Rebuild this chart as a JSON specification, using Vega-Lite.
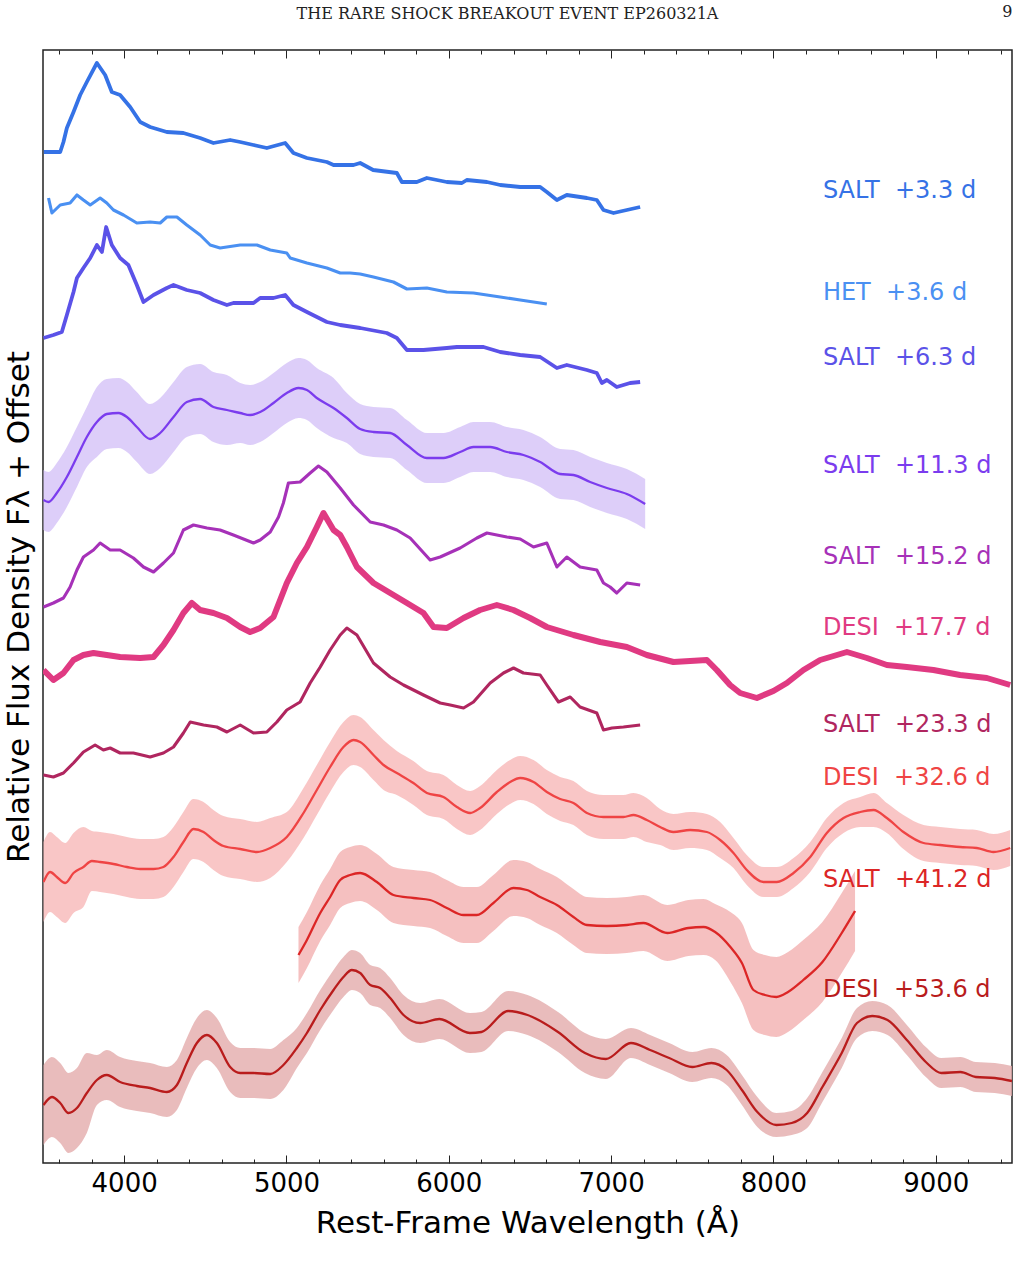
{
"$schema": "https://vega.github.io/schema/vega-lite/v6.json",
"width": 969, "height": 1113,
"autosize": {"type": "none"},
"padding": {"left": 43, "top": 50, "right": 14, "bottom": 105},
"background": "white",
"title": {"text": "THE RARE SHOCK BREAKOUT EVENT EP260321A", "anchor": "middle", "font": "DejaVu Serif", "fontSize": 16, "fontWeight": "normal", "color": "#222", "dx": -20, "dy": 18, "offset": 0},
"config": {"view": {"stroke": "#222", "strokeWidth": 1.5}},
"datasets": {
"sp": [
{"s":"a","w":3505,"v":101.1},{"s":"a","w":3606,"v":101.1},{"s":"a","w":3626,"v":102.1},{"s":"a","w":3647,"v":103.5},{"s":"a","w":3688,"v":105.1},{"s":"a","w":3729,"v":106.8},{"s":"a","w":3770,"v":108.1},{"s":"a","w":3832,"v":110.0},{"s":"a","w":3883,"v":108.8},{"s":"a","w":3924,"v":107.1},{"s":"a","w":3975,"v":106.8},{"s":"a","w":4037,"v":105.6},{"s":"a","w":4099,"v":104.1},{"s":"a","w":4160,"v":103.6},{"s":"a","w":4263,"v":103.1},{"s":"a","w":4365,"v":103.0},{"s":"a","w":4468,"v":102.5},{"s":"a","w":4550,"v":102.0},{"s":"a","w":4653,"v":102.3},{"s":"a","w":4715,"v":102.1},{"s":"a","w":4797,"v":101.8},{"s":"a","w":4879,"v":101.5},{"s":"a","w":4992,"v":102.0},{"s":"a","w":5043,"v":101.0},{"s":"a","w":5126,"v":100.5},{"s":"a","w":5249,"v":100.1},{"s":"a","w":5290,"v":99.8},{"s":"a","w":5413,"v":99.8},{"s":"a","w":5454,"v":100.0},{"s":"a","w":5534,"v":99.3},{"s":"a","w":5680,"v":99.0},{"s":"a","w":5711,"v":98.1},{"s":"a","w":5803,"v":98.1},{"s":"a","w":5865,"v":98.5},{"s":"a","w":5927,"v":98.3},{"s":"a","w":5988,"v":98.1},{"s":"a","w":6081,"v":98.0},{"s":"a","w":6111,"v":98.3},{"s":"a","w":6235,"v":98.1},{"s":"a","w":6317,"v":97.8},{"s":"a","w":6440,"v":97.6},{"s":"a","w":6563,"v":97.6},{"s":"a","w":6604,"v":97.1},{"s":"a","w":6666,"v":96.3},{"s":"a","w":6727,"v":96.8},{"s":"a","w":6851,"v":96.5},{"s":"a","w":6912,"v":96.3},{"s":"a","w":6953,"v":95.3},{"s":"a","w":7015,"v":95.0},{"s":"a","w":7097,"v":95.3},{"s":"a","w":7179,"v":95.6},
{"s":"b","w":3534,"v":96.5},{"s":"b","w":3555,"v":95.0},{"s":"b","w":3606,"v":95.8},{"s":"b","w":3667,"v":96.0},{"s":"b","w":3709,"v":96.8},{"s":"b","w":3749,"v":96.3},{"s":"b","w":3791,"v":95.8},{"s":"b","w":3852,"v":96.5},{"s":"b","w":3893,"v":96.0},{"s":"b","w":3934,"v":95.3},{"s":"b","w":3996,"v":94.8},{"s":"b","w":4078,"v":94.0},{"s":"b","w":4160,"v":94.1},{"s":"b","w":4222,"v":94.0},{"s":"b","w":4263,"v":94.6},{"s":"b","w":4325,"v":94.6},{"s":"b","w":4386,"v":93.8},{"s":"b","w":4468,"v":92.8},{"s":"b","w":4530,"v":91.8},{"s":"b","w":4591,"v":91.5},{"s":"b","w":4715,"v":91.8},{"s":"b","w":4818,"v":91.8},{"s":"b","w":4900,"v":91.3},{"s":"b","w":5002,"v":91.0},{"s":"b","w":5023,"v":90.5},{"s":"b","w":5126,"v":90.0},{"s":"b","w":5249,"v":89.5},{"s":"b","w":5331,"v":89.0},{"s":"b","w":5392,"v":89.0},{"s":"b","w":5454,"v":88.9},{"s":"b","w":5536,"v":88.6},{"s":"b","w":5659,"v":88.1},{"s":"b","w":5742,"v":87.4},{"s":"b","w":5865,"v":87.5},{"s":"b","w":5988,"v":87.1},{"s":"b","w":6152,"v":87.0},{"s":"b","w":6317,"v":86.6},{"s":"b","w":6440,"v":86.3},{"s":"b","w":6604,"v":85.9},
{"s":"c","w":3503,"v":82.5},{"s":"c","w":3564,"v":82.8},{"s":"c","w":3616,"v":83.1},{"s":"c","w":3647,"v":84.8},{"s":"c","w":3688,"v":87.1},{"s":"c","w":3709,"v":88.5},{"s":"c","w":3749,"v":89.5},{"s":"c","w":3791,"v":90.5},{"s":"c","w":3832,"v":91.8},{"s":"c","w":3863,"v":91.1},{"s":"c","w":3889,"v":93.6},{"s":"c","w":3924,"v":91.8},{"s":"c","w":3975,"v":90.5},{"s":"c","w":4026,"v":89.8},{"s":"c","w":4078,"v":87.8},{"s":"c","w":4119,"v":86.1},{"s":"c","w":4181,"v":86.8},{"s":"c","w":4263,"v":87.5},{"s":"c","w":4304,"v":87.8},{"s":"c","w":4386,"v":87.3},{"s":"c","w":4468,"v":87.0},{"s":"c","w":4550,"v":86.3},{"s":"c","w":4633,"v":85.8},{"s":"c","w":4673,"v":86.0},{"s":"c","w":4797,"v":86.0},{"s":"c","w":4838,"v":86.5},{"s":"c","w":4920,"v":86.5},{"s":"c","w":4992,"v":86.8},{"s":"c","w":5043,"v":85.8},{"s":"c","w":5126,"v":85.1},{"s":"c","w":5249,"v":84.1},{"s":"c","w":5331,"v":83.8},{"s":"c","w":5454,"v":83.5},{"s":"c","w":5618,"v":83.0},{"s":"c","w":5680,"v":82.5},{"s":"c","w":5742,"v":81.3},{"s":"c","w":5844,"v":81.3},{"s":"c","w":5988,"v":81.5},{"s":"c","w":6050,"v":81.6},{"s":"c","w":6214,"v":81.6},{"s":"c","w":6317,"v":81.1},{"s":"c","w":6440,"v":80.8},{"s":"c","w":6563,"v":80.6},{"s":"c","w":6666,"v":79.5},{"s":"c","w":6727,"v":79.8},{"s":"c","w":6851,"v":79.3},{"s":"c","w":6912,"v":79.0},{"s":"c","w":6943,"v":78.0},{"s":"c","w":6974,"v":78.3},{"s":"c","w":7035,"v":77.6},{"s":"c","w":7117,"v":78.0},{"s":"c","w":7179,"v":78.1},
{"s":"d","w":3503,"v":66.3},{"s":"d","w":3534,"v":66.1},{"s":"d","w":3585,"v":67.0},{"s":"d","w":3647,"v":68.6},{"s":"d","w":3709,"v":70.6},{"s":"d","w":3770,"v":72.6},{"s":"d","w":3832,"v":74.1},{"s":"d","w":3893,"v":74.9},{"s":"d","w":3965,"v":75.0},{"s":"d","w":4017,"v":74.6},{"s":"d","w":4078,"v":73.6},{"s":"d","w":4160,"v":72.4},{"s":"d","w":4222,"v":73.0},{"s":"d","w":4304,"v":74.6},{"s":"d","w":4386,"v":76.1},{"s":"d","w":4468,"v":76.4},{"s":"d","w":4550,"v":75.6},{"s":"d","w":4633,"v":75.3},{"s":"d","w":4715,"v":75.0},{"s":"d","w":4776,"v":74.8},{"s":"d","w":4838,"v":75.1},{"s":"d","w":4920,"v":76.0},{"s":"d","w":5002,"v":77.0},{"s":"d","w":5074,"v":77.5},{"s":"d","w":5126,"v":77.3},{"s":"d","w":5187,"v":76.5},{"s":"d","w":5290,"v":75.5},{"s":"d","w":5372,"v":74.5},{"s":"d","w":5454,"v":73.4},{"s":"d","w":5536,"v":73.1},{"s":"d","w":5639,"v":73.0},{"s":"d","w":5742,"v":71.8},{"s":"d","w":5865,"v":70.5},{"s":"d","w":5967,"v":70.5},{"s":"d","w":6070,"v":71.1},{"s":"d","w":6152,"v":71.6},{"s":"d","w":6255,"v":71.6},{"s":"d","w":6358,"v":71.1},{"s":"d","w":6460,"v":70.8},{"s":"d","w":6563,"v":70.1},{"s":"d","w":6686,"v":68.9},{"s":"d","w":6768,"v":68.8},{"s":"d","w":6871,"v":68.1},{"s":"d","w":6974,"v":67.5},{"s":"d","w":7097,"v":66.9},{"s":"d","w":7210,"v":65.9},
{"s":"e","w":3503,"v":55.6},{"s":"e","w":3564,"v":56.0},{"s":"e","w":3626,"v":56.5},{"s":"e","w":3667,"v":57.6},{"s":"e","w":3709,"v":59.3},{"s":"e","w":3749,"v":60.6},{"s":"e","w":3811,"v":61.3},{"s":"e","w":3852,"v":62.0},{"s":"e","w":3914,"v":61.3},{"s":"e","w":3975,"v":61.3},{"s":"e","w":4057,"v":60.5},{"s":"e","w":4119,"v":59.6},{"s":"e","w":4181,"v":59.1},{"s":"e","w":4242,"v":60.0},{"s":"e","w":4304,"v":61.0},{"s":"e","w":4365,"v":63.3},{"s":"e","w":4427,"v":63.8},{"s":"e","w":4510,"v":63.5},{"s":"e","w":4591,"v":63.3},{"s":"e","w":4673,"v":62.8},{"s":"e","w":4797,"v":62.0},{"s":"e","w":4838,"v":62.3},{"s":"e","w":4900,"v":63.1},{"s":"e","w":4951,"v":64.6},{"s":"e","w":4981,"v":66.0},{"s":"e","w":5012,"v":68.0},{"s":"e","w":5084,"v":68.1},{"s":"e","w":5146,"v":69.0},{"s":"e","w":5197,"v":69.7},{"s":"e","w":5249,"v":69.1},{"s":"e","w":5331,"v":67.5},{"s":"e","w":5413,"v":65.8},{"s":"e","w":5516,"v":64.1},{"s":"e","w":5598,"v":63.8},{"s":"e","w":5680,"v":63.3},{"s":"e","w":5762,"v":62.5},{"s":"e","w":5885,"v":60.3},{"s":"e","w":5947,"v":60.6},{"s":"e","w":6070,"v":61.5},{"s":"e","w":6173,"v":62.5},{"s":"e","w":6235,"v":63.0},{"s":"e","w":6358,"v":62.6},{"s":"e","w":6440,"v":62.4},{"s":"e","w":6522,"v":61.6},{"s":"e","w":6604,"v":62.0},{"s":"e","w":6666,"v":59.6},{"s":"e","w":6727,"v":60.6},{"s":"e","w":6809,"v":59.6},{"s":"e","w":6912,"v":59.3},{"s":"e","w":6953,"v":58.0},{"s":"e","w":6994,"v":57.6},{"s":"e","w":7035,"v":57.0},{"s":"e","w":7097,"v":58.0},{"s":"e","w":7179,"v":57.8},
{"s":"f","w":3503,"v":49.3},{"s":"f","w":3564,"v":48.3},{"s":"f","w":3626,"v":49.0},{"s":"f","w":3688,"v":50.3},{"s":"f","w":3749,"v":50.8},{"s":"f","w":3811,"v":51.0},{"s":"f","w":3893,"v":50.8},{"s":"f","w":3975,"v":50.6},{"s":"f","w":4099,"v":50.5},{"s":"f","w":4181,"v":50.6},{"s":"f","w":4242,"v":51.8},{"s":"f","w":4304,"v":53.3},{"s":"f","w":4365,"v":55.0},{"s":"f","w":4417,"v":56.0},{"s":"f","w":4468,"v":55.3},{"s":"f","w":4550,"v":55.0},{"s":"f","w":4633,"v":54.5},{"s":"f","w":4715,"v":53.6},{"s":"f","w":4776,"v":53.1},{"s":"f","w":4838,"v":53.5},{"s":"f","w":4920,"v":54.6},{"s":"f","w":5002,"v":58.0},{"s":"f","w":5064,"v":60.0},{"s":"f","w":5126,"v":61.6},{"s":"f","w":5187,"v":63.6},{"s":"f","w":5228,"v":65.0},{"s":"f","w":5290,"v":63.3},{"s":"f","w":5331,"v":62.8},{"s":"f","w":5372,"v":61.6},{"s":"f","w":5434,"v":59.6},{"s":"f","w":5536,"v":58.0},{"s":"f","w":5639,"v":57.0},{"s":"f","w":5742,"v":56.0},{"s":"f","w":5844,"v":55.0},{"s":"f","w":5906,"v":53.6},{"s":"f","w":5988,"v":53.5},{"s":"f","w":6091,"v":54.5},{"s":"f","w":6193,"v":55.3},{"s":"f","w":6296,"v":55.8},{"s":"f","w":6398,"v":55.3},{"s":"f","w":6501,"v":54.5},{"s":"f","w":6604,"v":53.6},{"s":"f","w":6768,"v":52.8},{"s":"f","w":6933,"v":52.1},{"s":"f","w":7097,"v":51.6},{"s":"f","w":7220,"v":50.8},{"s":"f","w":7384,"v":50.1},{"s":"f","w":7590,"v":50.3},{"s":"f","w":7651,"v":49.3},{"s":"f","w":7733,"v":47.8},{"s":"f","w":7795,"v":47.0},{"s":"f","w":7898,"v":46.5},{"s":"f","w":8000,"v":47.2},{"s":"f","w":8083,"v":48.0},{"s":"f","w":8185,"v":49.3},{"s":"f","w":8288,"v":50.3},{"s":"f","w":8453,"v":51.1},{"s":"f","w":8576,"v":50.5},{"s":"f","w":8699,"v":49.8},{"s":"f","w":8822,"v":49.6},{"s":"f","w":8986,"v":49.3},{"s":"f","w":9150,"v":48.8},{"s":"f","w":9315,"v":48.5},{"s":"f","w":9459,"v":47.8},
{"s":"g","w":3503,"v":38.8},{"s":"g","w":3564,"v":38.6},{"s":"g","w":3626,"v":39.0},{"s":"g","w":3688,"v":40.0},{"s":"g","w":3749,"v":41.1},{"s":"g","w":3821,"v":41.8},{"s":"g","w":3872,"v":41.3},{"s":"g","w":3914,"v":41.5},{"s":"g","w":3975,"v":41.0},{"s":"g","w":4057,"v":41.0},{"s":"g","w":4160,"v":40.6},{"s":"g","w":4242,"v":41.0},{"s":"g","w":4304,"v":41.6},{"s":"g","w":4365,"v":43.0},{"s":"g","w":4407,"v":44.1},{"s":"g","w":4489,"v":43.8},{"s":"g","w":4571,"v":43.6},{"s":"g","w":4633,"v":43.1},{"s":"g","w":4715,"v":43.8},{"s":"g","w":4797,"v":43.0},{"s":"g","w":4879,"v":43.1},{"s":"g","w":4941,"v":44.1},{"s":"g","w":5002,"v":45.3},{"s":"g","w":5084,"v":46.1},{"s":"g","w":5146,"v":48.0},{"s":"g","w":5208,"v":49.6},{"s":"g","w":5269,"v":51.3},{"s":"g","w":5331,"v":52.8},{"s":"g","w":5372,"v":53.5},{"s":"g","w":5434,"v":52.8},{"s":"g","w":5536,"v":50.0},{"s":"g","w":5639,"v":48.6},{"s":"g","w":5721,"v":47.8},{"s":"g","w":5844,"v":46.8},{"s":"g","w":5947,"v":46.0},{"s":"g","w":6009,"v":45.8},{"s":"g","w":6091,"v":45.5},{"s":"g","w":6152,"v":46.1},{"s":"g","w":6255,"v":48.0},{"s":"g","w":6337,"v":49.0},{"s":"g","w":6399,"v":49.5},{"s":"g","w":6460,"v":49.0},{"s":"g","w":6563,"v":48.8},{"s":"g","w":6604,"v":47.8},{"s":"g","w":6676,"v":46.1},{"s":"g","w":6748,"v":46.6},{"s":"g","w":6809,"v":45.6},{"s":"g","w":6912,"v":45.0},{"s":"g","w":6953,"v":43.3},{"s":"g","w":7005,"v":43.5},{"s":"g","w":7076,"v":43.6},{"s":"g","w":7179,"v":43.8},
{"s":"h","w":3503,"v":28.1},{"s":"h","w":3544,"v":29.1},{"s":"h","w":3585,"v":28.6},{"s":"h","w":3637,"v":28.0},{"s":"h","w":3688,"v":29.0},{"s":"h","w":3749,"v":29.6},{"s":"h","w":3801,"v":30.2},{"s":"h","w":3852,"v":30.1},{"s":"h","w":3934,"v":29.9},{"s":"h","w":4017,"v":29.6},{"s":"h","w":4099,"v":29.4},{"s":"h","w":4181,"v":29.4},{"s":"h","w":4242,"v":29.6},{"s":"h","w":4304,"v":30.6},{"s":"h","w":4365,"v":32.1},{"s":"h","w":4427,"v":33.4},{"s":"h","w":4489,"v":33.1},{"s":"h","w":4550,"v":32.3},{"s":"h","w":4612,"v":31.7},{"s":"h","w":4715,"v":31.4},{"s":"h","w":4818,"v":31.1},{"s":"h","w":4900,"v":31.5},{"s":"h","w":5002,"v":32.6},{"s":"h","w":5105,"v":35.0},{"s":"h","w":5187,"v":37.3},{"s":"h","w":5269,"v":39.6},{"s":"h","w":5351,"v":41.6},{"s":"h","w":5413,"v":42.3},{"s":"h","w":5454,"v":42.1},{"s":"h","w":5536,"v":40.8},{"s":"h","w":5598,"v":39.8},{"s":"h","w":5680,"v":39.0},{"s":"h","w":5782,"v":38.0},{"s":"h","w":5865,"v":37.0},{"s":"h","w":5967,"v":36.6},{"s":"h","w":6050,"v":35.6},{"s":"h","w":6132,"v":35.0},{"s":"h","w":6193,"v":35.5},{"s":"h","w":6296,"v":37.1},{"s":"h","w":6378,"v":38.1},{"s":"h","w":6440,"v":38.5},{"s":"h","w":6522,"v":38.1},{"s":"h","w":6604,"v":37.1},{"s":"h","w":6686,"v":36.4},{"s":"h","w":6768,"v":36.0},{"s":"h","w":6851,"v":35.0},{"s":"h","w":6953,"v":34.6},{"s":"h","w":7076,"v":34.6},{"s":"h","w":7138,"v":34.8},{"s":"h","w":7220,"v":34.3},{"s":"h","w":7302,"v":33.6},{"s":"h","w":7384,"v":33.1},{"s":"h","w":7487,"v":33.3},{"s":"h","w":7590,"v":33.1},{"s":"h","w":7672,"v":32.3},{"s":"h","w":7754,"v":31.0},{"s":"h","w":7836,"v":29.3},{"s":"h","w":7939,"v":28.1},{"s":"h","w":8021,"v":28.1},{"s":"h","w":8124,"v":29.0},{"s":"h","w":8227,"v":30.6},{"s":"h","w":8329,"v":33.0},{"s":"h","w":8432,"v":34.5},{"s":"h","w":8535,"v":35.1},{"s":"h","w":8617,"v":35.3},{"s":"h","w":8699,"v":34.5},{"s":"h","w":8801,"v":33.1},{"s":"h","w":8925,"v":32.0},{"s":"h","w":9027,"v":31.8},{"s":"h","w":9150,"v":31.6},{"s":"h","w":9253,"v":31.5},{"s":"h","w":9356,"v":31.1},{"s":"h","w":9459,"v":31.5},
{"s":"i","w":5074,"v":20.8},{"s":"i","w":5126,"v":22.3},{"s":"i","w":5208,"v":25.0},{"s":"i","w":5269,"v":26.6},{"s":"i","w":5331,"v":28.3},{"s":"i","w":5392,"v":28.8},{"s":"i","w":5454,"v":29.0},{"s":"i","w":5557,"v":28.1},{"s":"i","w":5659,"v":26.8},{"s":"i","w":5782,"v":26.5},{"s":"i","w":5885,"v":26.3},{"s":"i","w":5988,"v":25.5},{"s":"i","w":6091,"v":24.8},{"s":"i","w":6173,"v":24.8},{"s":"i","w":6275,"v":26.0},{"s":"i","w":6398,"v":27.5},{"s":"i","w":6481,"v":27.3},{"s":"i","w":6563,"v":26.6},{"s":"i","w":6666,"v":25.8},{"s":"i","w":6768,"v":24.6},{"s":"i","w":6851,"v":23.8},{"s":"i","w":6974,"v":23.7},{"s":"i","w":7097,"v":23.8},{"s":"i","w":7199,"v":24.0},{"s":"i","w":7346,"v":23.0},{"s":"i","w":7476,"v":23.5},{"s":"i","w":7570,"v":23.6},{"s":"i","w":7641,"v":23.1},{"s":"i","w":7735,"v":21.6},{"s":"i","w":7806,"v":20.0},{"s":"i","w":7877,"v":17.3},{"s":"i","w":7948,"v":16.8},{"s":"i","w":8019,"v":16.6},{"s":"i","w":8090,"v":17.1},{"s":"i","w":8184,"v":18.3},{"s":"i","w":8302,"v":20.1},{"s":"i","w":8421,"v":23.0},{"s":"i","w":8503,"v":25.2},
{"s":"j","w":3503,"v":5.8},{"s":"j","w":3555,"v":6.6},{"s":"j","w":3606,"v":6.0},{"s":"j","w":3657,"v":5.0},{"s":"j","w":3709,"v":5.5},{"s":"j","w":3770,"v":7.0},{"s":"j","w":3832,"v":8.3},{"s":"j","w":3893,"v":8.8},{"s":"j","w":3975,"v":8.1},{"s":"j","w":4078,"v":7.7},{"s":"j","w":4160,"v":7.5},{"s":"j","w":4263,"v":7.1},{"s":"j","w":4325,"v":7.8},{"s":"j","w":4386,"v":10.0},{"s":"j","w":4448,"v":12.0},{"s":"j","w":4510,"v":12.8},{"s":"j","w":4571,"v":12.0},{"s":"j","w":4653,"v":9.6},{"s":"j","w":4715,"v":9.0},{"s":"j","w":4797,"v":9.0},{"s":"j","w":4900,"v":8.9},{"s":"j","w":4981,"v":9.8},{"s":"j","w":5064,"v":11.5},{"s":"j","w":5126,"v":13.0},{"s":"j","w":5208,"v":15.3},{"s":"j","w":5290,"v":17.3},{"s":"j","w":5351,"v":18.6},{"s":"j","w":5403,"v":19.3},{"s":"j","w":5454,"v":19.0},{"s":"j","w":5516,"v":17.8},{"s":"j","w":5577,"v":17.5},{"s":"j","w":5639,"v":16.5},{"s":"j","w":5721,"v":14.8},{"s":"j","w":5824,"v":14.0},{"s":"j","w":5942,"v":14.4},{"s":"j","w":6130,"v":13.0},{"s":"j","w":6201,"v":13.1},{"s":"j","w":6366,"v":15.2},{"s":"j","w":6485,"v":14.8},{"s":"j","w":6673,"v":13.1},{"s":"j","w":6839,"v":11.0},{"s":"j","w":6968,"v":10.4},{"s":"j","w":7122,"v":12.0},{"s":"j","w":7240,"v":11.3},{"s":"j","w":7358,"v":10.5},{"s":"j","w":7500,"v":9.6},{"s":"j","w":7618,"v":10.0},{"s":"j","w":7712,"v":9.3},{"s":"j","w":7806,"v":7.3},{"s":"j","w":7901,"v":5.1},{"s":"j","w":8019,"v":3.8},{"s":"j","w":8113,"v":4.0},{"s":"j","w":8208,"v":5.0},{"s":"j","w":8302,"v":7.6},{"s":"j","w":8421,"v":11.0},{"s":"j","w":8515,"v":14.0},{"s":"j","w":8609,"v":14.7},{"s":"j","w":8703,"v":14.3},{"s":"j","w":8822,"v":12.3},{"s":"j","w":8939,"v":10.1},{"s":"j","w":9034,"v":9.0},{"s":"j","w":9152,"v":9.1},{"s":"j","w":9247,"v":8.6},{"s":"j","w":9364,"v":8.5},{"s":"j","w":9470,"v":8.2}
],
"raw": [
{"s":"d","w":3503,"lo":63.3,"hi":69.3},{"s":"d","w":3534,"lo":63.1,"hi":69.1},{"s":"d","w":3585,"lo":64.0,"hi":70.0},{"s":"d","w":3647,"lo":65.6,"hi":71.6},{"s":"d","w":3709,"lo":67.6,"hi":73.6},{"s":"d","w":3770,"lo":69.6,"hi":75.6},{"s":"d","w":3832,"lo":70.6,"hi":77.6},{"s":"d","w":3893,"lo":71.4,"hi":78.4},{"s":"d","w":3965,"lo":71.5,"hi":78.5},{"s":"d","w":4017,"lo":71.1,"hi":78.1},{"s":"d","w":4078,"lo":70.1,"hi":77.1},{"s":"d","w":4160,"lo":68.9,"hi":75.9},{"s":"d","w":4222,"lo":69.5,"hi":76.5},{"s":"d","w":4304,"lo":71.1,"hi":78.1},{"s":"d","w":4386,"lo":72.6,"hi":79.6},{"s":"d","w":4468,"lo":72.9,"hi":79.9},{"s":"d","w":4550,"lo":72.1,"hi":79.1},{"s":"d","w":4633,"lo":71.8,"hi":78.8},{"s":"d","w":4715,"lo":72.0,"hi":78.0},{"s":"d","w":4776,"lo":71.8,"hi":77.8},{"s":"d","w":4838,"lo":72.1,"hi":78.1},{"s":"d","w":4920,"lo":73.0,"hi":79.0},{"s":"d","w":5002,"lo":74.0,"hi":80.0},{"s":"d","w":5074,"lo":74.5,"hi":80.5},{"s":"d","w":5126,"lo":74.3,"hi":80.3},{"s":"d","w":5187,"lo":73.5,"hi":79.5},{"s":"d","w":5290,"lo":72.5,"hi":78.5},{"s":"d","w":5372,"lo":72.0,"hi":77.0},{"s":"d","w":5454,"lo":70.9,"hi":75.9},{"s":"d","w":5536,"lo":70.6,"hi":75.6},{"s":"d","w":5639,"lo":70.5,"hi":75.5},{"s":"d","w":5742,"lo":69.3,"hi":74.3},{"s":"d","w":5865,"lo":68.0,"hi":73.0},{"s":"d","w":5967,"lo":68.0,"hi":73.0},{"s":"d","w":6070,"lo":68.6,"hi":73.6},{"s":"d","w":6152,"lo":69.1,"hi":74.1},{"s":"d","w":6255,"lo":69.1,"hi":74.1},{"s":"d","w":6358,"lo":68.6,"hi":73.6},{"s":"d","w":6460,"lo":68.3,"hi":73.3},{"s":"d","w":6563,"lo":67.6,"hi":72.6},{"s":"d","w":6686,"lo":66.4,"hi":71.4},{"s":"d","w":6768,"lo":66.3,"hi":71.3},{"s":"d","w":6871,"lo":65.6,"hi":70.6},{"s":"d","w":6974,"lo":65.0,"hi":70.0},{"s":"d","w":7097,"lo":64.4,"hi":69.4},{"s":"d","w":7210,"lo":63.4,"hi":68.4},
{"s":"h","w":3503,"lo":24.1,"hi":32.1},{"s":"h","w":3544,"lo":25.1,"hi":33.1},{"s":"h","w":3585,"lo":24.6,"hi":32.6},{"s":"h","w":3637,"lo":24.0,"hi":32.0},{"s":"h","w":3688,"lo":25.0,"hi":33.0},{"s":"h","w":3749,"lo":25.6,"hi":33.6},{"s":"h","w":3801,"lo":27.2,"hi":33.2},{"s":"h","w":3852,"lo":27.1,"hi":33.1},{"s":"h","w":3934,"lo":26.9,"hi":32.9},{"s":"h","w":4017,"lo":26.6,"hi":32.6},{"s":"h","w":4099,"lo":26.4,"hi":32.4},{"s":"h","w":4181,"lo":26.4,"hi":32.4},{"s":"h","w":4242,"lo":26.6,"hi":32.6},{"s":"h","w":4304,"lo":27.6,"hi":33.6},{"s":"h","w":4365,"lo":29.1,"hi":35.1},{"s":"h","w":4427,"lo":30.4,"hi":36.4},{"s":"h","w":4489,"lo":30.1,"hi":36.1},{"s":"h","w":4550,"lo":29.3,"hi":35.3},{"s":"h","w":4612,"lo":28.7,"hi":34.7},{"s":"h","w":4715,"lo":28.4,"hi":34.4},{"s":"h","w":4818,"lo":28.1,"hi":34.1},{"s":"h","w":4900,"lo":28.5,"hi":34.5},{"s":"h","w":5002,"lo":30.1,"hi":35.1},{"s":"h","w":5105,"lo":32.5,"hi":37.5},{"s":"h","w":5187,"lo":34.8,"hi":39.8},{"s":"h","w":5269,"lo":37.1,"hi":42.1},{"s":"h","w":5351,"lo":39.1,"hi":44.1},{"s":"h","w":5413,"lo":39.8,"hi":44.8},{"s":"h","w":5454,"lo":39.6,"hi":44.6},{"s":"h","w":5536,"lo":38.3,"hi":43.3},{"s":"h","w":5598,"lo":37.3,"hi":42.3},{"s":"h","w":5680,"lo":36.8,"hi":41.2},{"s":"h","w":5782,"lo":35.8,"hi":40.2},{"s":"h","w":5865,"lo":34.8,"hi":39.2},{"s":"h","w":5967,"lo":34.4,"hi":38.8},{"s":"h","w":6050,"lo":33.4,"hi":37.8},{"s":"h","w":6132,"lo":32.8,"hi":37.2},{"s":"h","w":6193,"lo":33.3,"hi":37.7},{"s":"h","w":6296,"lo":34.9,"hi":39.3},{"s":"h","w":6378,"lo":35.9,"hi":40.3},{"s":"h","w":6440,"lo":36.3,"hi":40.7},{"s":"h","w":6522,"lo":35.9,"hi":40.3},{"s":"h","w":6604,"lo":34.9,"hi":39.3},{"s":"h","w":6686,"lo":34.2,"hi":38.6},{"s":"h","w":6768,"lo":33.8,"hi":38.2},{"s":"h","w":6851,"lo":32.8,"hi":37.2},{"s":"h","w":6953,"lo":32.4,"hi":36.8},{"s":"h","w":7076,"lo":32.4,"hi":36.8},{"s":"h","w":7138,"lo":32.6,"hi":37.0},{"s":"h","w":7220,"lo":32.1,"hi":36.5},{"s":"h","w":7302,"lo":31.8,"hi":35.4},{"s":"h","w":7384,"lo":31.3,"hi":34.9},{"s":"h","w":7487,"lo":31.5,"hi":35.1},{"s":"h","w":7590,"lo":31.3,"hi":34.9},{"s":"h","w":7672,"lo":30.5,"hi":34.1},{"s":"h","w":7754,"lo":29.5,"hi":32.5},{"s":"h","w":7836,"lo":27.8,"hi":30.8},{"s":"h","w":7939,"lo":26.6,"hi":29.6},{"s":"h","w":8021,"lo":26.6,"hi":29.6},{"s":"h","w":8124,"lo":27.5,"hi":30.5},{"s":"h","w":8227,"lo":29.1,"hi":32.1},{"s":"h","w":8329,"lo":31.5,"hi":34.5},{"s":"h","w":8432,"lo":33.0,"hi":36.0},{"s":"h","w":8535,"lo":33.6,"hi":36.6},{"s":"h","w":8617,"lo":33.6,"hi":37.0},{"s":"h","w":8699,"lo":33.0,"hi":36.0},{"s":"h","w":8801,"lo":31.4,"hi":34.8},{"s":"h","w":8925,"lo":30.2,"hi":33.8},{"s":"h","w":9027,"lo":30.0,"hi":33.6},{"s":"h","w":9150,"lo":29.8,"hi":33.4},{"s":"h","w":9253,"lo":29.7,"hi":33.3},{"s":"h","w":9356,"lo":29.3,"hi":32.9},{"s":"h","w":9459,"lo":29.7,"hi":33.3},
{"s":"i","w":5074,"lo":18.0,"hi":23.6},{"s":"i","w":5126,"lo":19.5,"hi":25.1},{"s":"i","w":5208,"lo":22.2,"hi":27.8},{"s":"i","w":5269,"lo":23.8,"hi":29.4},{"s":"i","w":5331,"lo":25.5,"hi":31.1},{"s":"i","w":5392,"lo":26.0,"hi":31.6},{"s":"i","w":5454,"lo":26.2,"hi":31.8},{"s":"i","w":5557,"lo":25.3,"hi":30.9},{"s":"i","w":5659,"lo":24.0,"hi":29.6},{"s":"i","w":5782,"lo":23.7,"hi":29.3},{"s":"i","w":5885,"lo":23.5,"hi":29.1},{"s":"i","w":5988,"lo":22.7,"hi":28.3},{"s":"i","w":6091,"lo":22.0,"hi":27.6},{"s":"i","w":6173,"lo":22.0,"hi":27.6},{"s":"i","w":6275,"lo":23.2,"hi":28.8},{"s":"i","w":6398,"lo":24.7,"hi":30.3},{"s":"i","w":6481,"lo":24.5,"hi":30.1},{"s":"i","w":6563,"lo":23.8,"hi":29.4},{"s":"i","w":6666,"lo":23.0,"hi":28.6},{"s":"i","w":6768,"lo":21.8,"hi":27.4},{"s":"i","w":6851,"lo":21.0,"hi":26.6},{"s":"i","w":6974,"lo":20.9,"hi":26.5},{"s":"i","w":7097,"lo":21.0,"hi":26.6},{"s":"i","w":7199,"lo":21.2,"hi":26.8},{"s":"i","w":7346,"lo":20.2,"hi":25.8},{"s":"i","w":7476,"lo":20.7,"hi":26.3},{"s":"i","w":7570,"lo":20.8,"hi":26.4},{"s":"i","w":7641,"lo":20.3,"hi":25.9},{"s":"i","w":7735,"lo":18.1,"hi":25.1},{"s":"i","w":7806,"lo":16.0,"hi":24.0},{"s":"i","w":7877,"lo":13.3,"hi":21.3},{"s":"i","w":7948,"lo":12.8,"hi":20.8},{"s":"i","w":8019,"lo":12.6,"hi":20.6},{"s":"i","w":8090,"lo":13.1,"hi":21.1},{"s":"i","w":8184,"lo":14.3,"hi":22.3},{"s":"i","w":8302,"lo":16.1,"hi":24.1},{"s":"i","w":8421,"lo":19.0,"hi":27.0},{"s":"i","w":8503,"lo":21.2,"hi":29.2},
{"s":"j","w":3503,"lo":1.8,"hi":9.8},{"s":"j","w":3555,"lo":2.6,"hi":10.6},{"s":"j","w":3606,"lo":2.0,"hi":10.0},{"s":"j","w":3657,"lo":1.0,"hi":9.0},{"s":"j","w":3709,"lo":1.5,"hi":9.5},{"s":"j","w":3770,"lo":3.0,"hi":11.0},{"s":"j","w":3832,"lo":5.8,"hi":10.8},{"s":"j","w":3893,"lo":6.3,"hi":11.3},{"s":"j","w":3975,"lo":5.6,"hi":10.6},{"s":"j","w":4078,"lo":5.2,"hi":10.2},{"s":"j","w":4160,"lo":5.0,"hi":10.0},{"s":"j","w":4263,"lo":4.6,"hi":9.6},{"s":"j","w":4325,"lo":5.3,"hi":10.3},{"s":"j","w":4386,"lo":7.5,"hi":12.5},{"s":"j","w":4448,"lo":9.5,"hi":14.5},{"s":"j","w":4510,"lo":10.3,"hi":15.3},{"s":"j","w":4571,"lo":9.5,"hi":14.5},{"s":"j","w":4653,"lo":7.1,"hi":12.1},{"s":"j","w":4715,"lo":6.5,"hi":11.5},{"s":"j","w":4797,"lo":6.5,"hi":11.5},{"s":"j","w":4900,"lo":6.4,"hi":11.4},{"s":"j","w":4981,"lo":7.3,"hi":12.3},{"s":"j","w":5064,"lo":9.5,"hi":13.5},{"s":"j","w":5126,"lo":11.0,"hi":15.0},{"s":"j","w":5208,"lo":13.3,"hi":17.3},{"s":"j","w":5290,"lo":15.3,"hi":19.3},{"s":"j","w":5351,"lo":16.6,"hi":20.6},{"s":"j","w":5403,"lo":17.3,"hi":21.3},{"s":"j","w":5454,"lo":17.0,"hi":21.0},{"s":"j","w":5516,"lo":15.8,"hi":19.8},{"s":"j","w":5577,"lo":15.5,"hi":19.5},{"s":"j","w":5639,"lo":14.5,"hi":18.5},{"s":"j","w":5721,"lo":12.8,"hi":16.8},{"s":"j","w":5824,"lo":12.0,"hi":16.0},{"s":"j","w":5942,"lo":12.4,"hi":16.4},{"s":"j","w":6130,"lo":11.0,"hi":15.0},{"s":"j","w":6201,"lo":11.1,"hi":15.1},{"s":"j","w":6366,"lo":13.2,"hi":17.2},{"s":"j","w":6485,"lo":12.8,"hi":16.8},{"s":"j","w":6673,"lo":11.1,"hi":15.1},{"s":"j","w":6839,"lo":9.0,"hi":13.0},{"s":"j","w":6968,"lo":8.4,"hi":12.4},{"s":"j","w":7122,"lo":10.5,"hi":13.5},{"s":"j","w":7240,"lo":9.8,"hi":12.8},{"s":"j","w":7358,"lo":9.0,"hi":12.0},{"s":"j","w":7500,"lo":8.1,"hi":11.1},{"s":"j","w":7618,"lo":8.5,"hi":11.5},{"s":"j","w":7712,"lo":7.8,"hi":10.8},{"s":"j","w":7806,"lo":5.8,"hi":8.8},{"s":"j","w":7901,"lo":3.6,"hi":6.6},{"s":"j","w":8019,"lo":2.6,"hi":5.0},{"s":"j","w":8113,"lo":2.8,"hi":5.2},{"s":"j","w":8208,"lo":3.5,"hi":6.5},{"s":"j","w":8302,"lo":6.1,"hi":9.1},{"s":"j","w":8421,"lo":9.5,"hi":12.5},{"s":"j","w":8515,"lo":12.5,"hi":15.5},{"s":"j","w":8609,"lo":13.2,"hi":16.2},{"s":"j","w":8703,"lo":12.8,"hi":15.8},{"s":"j","w":8822,"lo":10.8,"hi":13.8},{"s":"j","w":8939,"lo":8.6,"hi":11.6},{"s":"j","w":9034,"lo":7.5,"hi":10.5},{"s":"j","w":9152,"lo":7.6,"hi":10.6},{"s":"j","w":9247,"lo":7.1,"hi":10.1},{"s":"j","w":9364,"lo":7.0,"hi":10.0},{"s":"j","w":9470,"lo":6.7,"hi":9.7}
],
"lab": [
{"s":"a","t":"SALT\u00a0\u00a0+3.3 d","w":8305,"v":97.2},
{"s":"b","t":"HET\u00a0\u00a0+3.6 d","w":8305,"v":87.0},
{"s":"c","t":"SALT\u00a0\u00a0+6.3 d","w":8305,"v":80.5},
{"s":"d","t":"SALT\u00a0\u00a0+11.3 d","w":8305,"v":69.7},
{"s":"e","t":"SALT\u00a0\u00a0+15.2 d","w":8305,"v":60.6},
{"s":"f","t":"DESI\u00a0\u00a0+17.7 d","w":8305,"v":53.5},
{"s":"g","t":"SALT\u00a0\u00a0+23.3 d","w":8305,"v":43.8},
{"s":"h","t":"DESI\u00a0\u00a0+32.6 d","w":8305,"v":38.5},
{"s":"i","t":"SALT\u00a0\u00a0+41.2 d","w":8305,"v":28.3},
{"s":"j","t":"DESI\u00a0\u00a0+53.6 d","w":8305,"v":17.3}
]
},
"layer": [
{
"data": {"name": "raw"},
"mark": {"type": "area", "opacity": 0.8, "clip": true, "interpolate": "monotone"},
"encoding": {
"x": {"field": "w", "type": "quantitative", "scale": {"domain": [3500, 9470], "nice": false, "zero": false},
"axis": {"orient": "bottom", "values": [3600,3800,4000,4200,4400,4600,4800,5000,5200,5400,5600,5800,6000,6200,6400,6600,6800,7000,7200,7400,7600,7800,8000,8200,8400,8600,8800,9000,9200,9400],
"format": "d", "labelExpr": "datum.value % 1000 === 0 ? datum.label : ''", "labelOverlap": false, "labelFlush": false,
"tickSize": {"condition": {"test": "datum.value % 1000 === 0", "value": -8}, "value": -4},
"tickColor": "#222", "tickWidth": 1, "domain": false, "grid": false,
"labelFont": "DejaVu Sans", "labelFontSize": 26, "labelColor": "black", "labelPadding": 15,
"title": "Rest-Frame Wavelength (Å)", "titleFont": "DejaVu Sans", "titleFontSize": 31, "titleFontWeight": "normal", "titleColor": "black", "titlePadding": 8}},
"y": {"field": "lo", "type": "quantitative", "stack": null, "scale": {"domain": [0, 111.3], "nice": false, "zero": false},
"axis": {"orient": "left", "title": "Relative Flux Density Fλ + Offset", "labels": false, "ticks": false, "domain": false, "grid": false, "titleFont": "DejaVu Sans", "titleFontSize": 31, "titleFontWeight": "normal", "titleColor": "black", "titlePadding": 8}},
"y2": {"field": "hi"},
"color": {"field": "s", "type": "nominal", "legend": null, "scale": {"domain": ["d","h","i","j"], "range": ["#d4c2f8","#f8b8b8","#f2b0b0","#e3abab"]}}
}
},
{
"data": {"name": "sp"},
"transform": [{"filter": {"field": "s", "oneOf": ["a","c"]}}],
"mark": {"type": "line", "clip": true, "strokeJoin": "round", "strokeWidth": 3.8},
"encoding": {
"x": {"field": "w", "type": "quantitative", "scale": {"domain": [3500, 9470], "nice": false, "zero": false},
"axis": {"orient": "top", "values": [3600,3800,4000,4200,4400,4600,4800,5000,5200,5400,5600,5800,6000,6200,6400,6600,6800,7000,7200,7400,7600,7800,8000,8200,8400,8600,8800,9000,9200,9400],
"labels": false, "tickSize": {"condition": {"test": "datum.value % 1000 === 0", "value": -8}, "value": -4},
"tickColor": "#222", "tickWidth": 1, "domain": false, "grid": false,
"title": "9", "titleAnchor": "end", "titleFont": "DejaVu Serif", "titleFontSize": 16, "titleFontWeight": "normal", "titleColor": "#222", "titlePadding": 30}},
"y": {"field": "v", "type": "quantitative", "scale": {"domain": [0, 111.3], "nice": false, "zero": false}, "axis": null},
"color": {"field": "s", "type": "nominal", "legend": null, "scale": {"domain": ["a","c"], "range": ["#3572e6","#5b52e8"]}}
}
},
{
"data": {"name": "sp"},
"transform": [{"filter": {"field": "s", "oneOf": ["b","e","g"]}}],
"mark": {"type": "line", "clip": true, "strokeJoin": "round", "strokeWidth": 3.1},
"encoding": {
"x": {"field": "w", "type": "quantitative", "scale": {"domain": [3500, 9470], "nice": false, "zero": false}, "axis": null},
"y": {"field": "v", "type": "quantitative", "scale": {"domain": [0, 111.3], "nice": false, "zero": false}, "axis": null},
"color": {"field": "s", "type": "nominal", "legend": null, "scale": {"domain": ["b","e","g"], "range": ["#4a90f2","#a631b8","#b0265f"]}}
}
},
{
"data": {"name": "sp"},
"transform": [{"filter": {"field": "s", "equal": "f"}}],
"mark": {"type": "line", "clip": true, "strokeJoin": "round", "strokeWidth": 6, "color": "#e03a82"},
"encoding": {
"x": {"field": "w", "type": "quantitative", "scale": {"domain": [3500, 9470], "nice": false, "zero": false}, "axis": null},
"y": {"field": "v", "type": "quantitative", "scale": {"domain": [0, 111.3], "nice": false, "zero": false}, "axis": null}
}
},
{
"data": {"name": "sp"},
"transform": [{"filter": {"field": "s", "oneOf": ["d","h","i","j"]}}],
"mark": {"type": "line", "clip": true, "interpolate": "monotone", "strokeWidth": 2.3},
"encoding": {
"x": {"field": "w", "type": "quantitative", "scale": {"domain": [3500, 9470], "nice": false, "zero": false}, "axis": null},
"y": {"field": "v", "type": "quantitative", "scale": {"domain": [0, 111.3], "nice": false, "zero": false}, "axis": null},
"color": {"field": "s", "type": "nominal", "legend": null, "scale": {"domain": ["d","h","i","j"], "range": ["#7b3cee","#ef4444","#dc2626","#b91c1c"]}}
}
},
{
"data": {"name": "lab"},
"mark": {"type": "text", "align": "left", "baseline": "middle", "font": "DejaVu Sans", "fontSize": 24},
"encoding": {
"x": {"field": "w", "type": "quantitative", "scale": {"domain": [3500, 9470], "nice": false, "zero": false}, "axis": null},
"y": {"field": "v", "type": "quantitative", "scale": {"domain": [0, 111.3], "nice": false, "zero": false}, "axis": null},
"text": {"field": "t"},
"color": {"field": "s", "type": "nominal", "legend": null, "scale": {"domain": ["a","b","c","d","e","f","g","h","i","j"], "range": ["#3572e6","#4a90f2","#5b52e8","#7b3cee","#a631b8","#e03a82","#b0265f","#ef4444","#dc2626","#b91c1c"]}}
}
}
],
"resolve": {"scale": {"color": "independent"}, "axis": {"x": "independent", "y": "independent"}}
}
